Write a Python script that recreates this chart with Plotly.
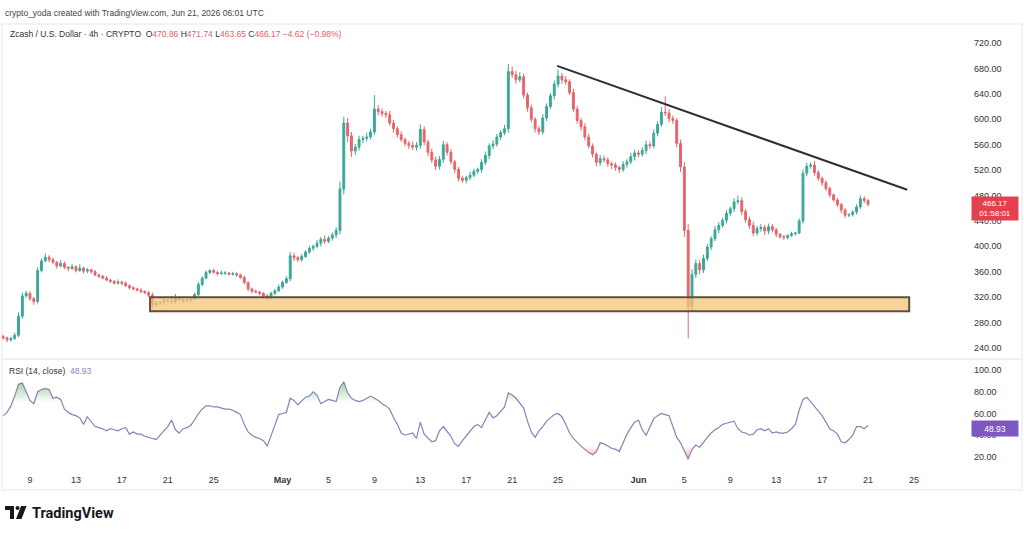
import plotly.graph_objects as go
import pandas as pd

# ---------------- data (8h steps) ----------------
first_open = 258
close = [256, 253, 255, 260, 290, 322, 326, 318, 313, 362,
         377, 383, 379, 375, 369, 373, 367, 365, 368, 362,
         366, 361, 363, 360, 355, 353, 350, 347, 345, 342,
         344, 342, 338, 335, 333, 331, 329, 327, 323, 308,
         311, 312, 315, 314, 313, 319, 316, 314, 315, 317,
         324, 340, 350, 359, 362, 359, 357, 358, 358, 356,
         357, 355, 351, 343, 333, 329, 328, 326, 322, 318,
         326, 330, 336, 343, 349, 385, 382, 379, 384, 391,
         397, 400, 405, 411, 408, 413, 418, 425, 490, 594,
         574, 550, 556, 568, 570, 572, 580, 616, 612, 609,
         607, 594, 585, 576, 568, 562, 559, 556, 559, 584,
         564, 548, 536, 526, 537, 560, 548, 533, 521, 507,
         504, 508, 512, 518, 521, 532, 543, 558, 561, 572,
         579, 585, 675, 670, 662, 667, 638, 618, 600, 585,
         580, 602, 620, 637, 655, 668, 662, 659, 642, 616,
         598, 588, 572, 558, 545, 532, 538, 536, 530, 528,
         524, 521, 529, 533, 541, 547, 545, 551, 560, 558,
         578, 592, 611, 610, 601, 598, 562, 525, 425, 305,
         356, 373, 363, 381, 399, 412, 426, 433, 441, 452,
         459, 470, 472, 455, 442, 433, 421, 428, 430, 424,
         431, 426, 419, 415, 414, 417, 420, 421, 440, 515,
         526, 528, 516, 507, 500, 491, 481, 473, 466, 457,
         449, 450, 454, 462, 475, 472, 466.17]

wick_up = [3, 2, 3, 4, 6, 5, 4, 3, 2, 5,
           4, 6, 3, 3, 2, 5, 3, 2, 4, 2,
           6, 2, 3, 2, 3, 2, 2, 3, 2, 2,
           4, 2, 3, 2, 2, 2, 3, 2, 3, 4,
           3, 2, 3, 2, 8, 6, 3, 2, 3, 2,
           3, 4, 3, 3, 2, 3, 2, 4, 3, 2,
           3, 2, 2, 3, 2, 2, 3, 2, 2, 3,
           3, 3, 4, 3, 4, 6, 5, 3, 4, 3,
           4, 3, 5, 4, 6, 3, 4, 5, 12, 10,
           8, 6, 5, 6, 4, 7, 5, 22, 6, 5,
           4, 6, 5, 4, 5, 3, 4, 6, 5, 8,
           5, 4, 6, 5, 5, 6, 4, 5, 3, 4,
           4, 3, 5, 4, 3, 5, 6, 4, 6, 5,
           4, 6, 12, 8, 6, 7, 5, 4, 5, 3,
           4, 6, 5, 4, 6, 10, 5, 6, 4, 6,
           5, 4, 6, 5, 4, 3, 6, 5, 4, 3,
           4, 3, 5, 4, 6, 5, 4, 5, 6, 5,
           6, 5, 8, 25, 6, 5, 4, 6, 8, 10,
           8, 6, 5, 6, 5, 4, 6, 5, 4, 5,
           4, 6, 8, 5, 4, 5, 6, 4, 5, 4,
           5, 4, 3, 2, 3, 2, 3, 2, 4, 6,
           5, 4, 6, 4, 3, 4, 3, 2, 3, 2,
           3, 2, 3, 4, 5, 4, 3]

wick_dn = [3, 4, 3, 2, 3, 4, 3, 4, 5, 3,
           3, 2, 4, 3, 4, 2, 3, 4, 2, 3,
           2, 4, 3, 3, 2, 3, 2, 2, 3, 2,
           2, 3, 2, 3, 2, 2, 3, 2, 3, 5,
           3, 4, 2, 3, 4, 3, 2, 3, 2, 3,
           2, 3, 3, 2, 3, 2, 3, 2, 3, 2,
           2, 3, 2, 3, 4, 3, 2, 3, 4, 3,
           2, 3, 2, 3, 2, 4, 5, 4, 3, 2,
           3, 4, 3, 5, 4, 3, 4, 5, 6, 8,
           10, 9, 6, 5, 6, 5, 4, 5, 6, 5,
           5, 4, 6, 5, 4, 5, 6, 4, 5, 6,
           5, 6, 5, 6, 5, 6, 5, 4, 6, 5,
           4, 5, 4, 3, 4, 5, 4, 6, 5, 4,
           5, 4, 6, 5, 6, 4, 5, 6, 5, 6,
           5, 4, 5, 4, 6, 5, 6, 5, 4, 5,
           5, 6, 5, 4, 5, 6, 5, 4, 5, 6,
           5, 6, 4, 5, 4, 6, 5, 4, 6, 5,
           4, 5, 4, 5, 6, 5, 6, 8, 10, 50,
           8, 6, 7, 5, 4, 5, 4, 5, 4, 5,
           4, 5, 4, 6, 5, 6, 5, 4, 5, 6,
           5, 4, 5, 3, 4, 3, 2, 3, 2, 4,
           5, 4, 5, 4, 5, 4, 4, 3, 4, 5,
           4, 3, 3, 4, 3, 4, 3]

rsi = [58, 61, 67, 76, 87, 88, 80, 72, 69, 80,
       82, 83, 82, 74, 75, 73, 64, 61, 59, 58,
       56, 50, 57, 52, 48, 47, 46, 44, 46, 45,
       44, 46, 47, 41, 43, 41, 41, 39, 38, 37,
       36, 40, 44, 48, 54, 45, 42, 46, 47, 49,
       54, 60, 64, 67, 67, 66, 66, 65, 64, 64,
       63, 61, 59, 50, 43, 40, 38, 37, 35, 30,
       40, 50, 59, 60, 61, 74, 72, 68, 72, 75,
       76, 80, 77, 69, 71, 73, 72, 71, 84, 89,
       79, 74, 72, 71, 72, 74, 76, 74, 72, 69,
       67, 64, 56, 50, 42, 40, 41, 42, 37, 52,
       41, 37, 34, 35, 44, 48, 43, 39, 32, 30,
       35, 39, 43, 48, 50, 47, 54, 61, 56, 58,
       62, 66, 79, 77, 74, 70, 65, 53, 43, 38,
       44, 48, 53, 56, 59, 60, 57, 50, 42, 37,
       33, 30, 27, 24, 22, 25, 33, 32, 30, 28,
       27, 25, 33, 41, 47, 52, 54, 45, 40, 48,
       55, 58, 60, 59, 58, 48, 38, 33, 25, 18,
       27, 31, 29, 34, 38, 42, 45, 47, 50, 51,
       52, 53, 46, 43, 42, 40, 41, 45, 46, 44,
       46, 42, 43, 42, 42, 43, 46, 50, 63, 73,
       75, 71, 67, 62, 58, 52, 46, 44, 41, 34,
       33, 36, 40, 48, 48, 46, 48.93]

price_ticks = [240, 280, 320, 360, 400, 440, 480, 520, 560, 600, 640, 680, 720]
rsi_ticks = [20, 40, 60, 80, 100]
x_tick_dates = ["2026-04-09", "2026-04-13", "2026-04-17", "2026-04-21", "2026-04-25",
                "2026-05-01", "2026-05-05", "2026-05-09", "2026-05-13", "2026-05-17",
                "2026-05-21", "2026-05-25", "2026-06-01", "2026-06-05", "2026-06-09",
                "2026-06-13", "2026-06-17", "2026-06-21", "2026-06-25"]
x_tick_text = ["9", "13", "17", "21", "25", "<b>May</b>", "5", "9", "13", "17",
               "21", "25", "<b>Jun</b>", "5", "9", "13", "17", "21", "25"]

trend_x = ["2026-05-24 22:00", "2026-06-24 10:00"]
trend_y = [684, 489]
zone_x = ["2026-04-19 11:00", "2026-06-24 14:00"]
zone_y = [298, 320]

last_price = "466.17"
countdown = "01:58:01"
last_rsi = "48.93"

# ---------------- build ----------------
times = pd.date_range("2026-04-06 16:00", periods=len(close), freq="8h")
opens = [first_open] + close[:-1]
highs = [max(o, c) + w for o, c, w in zip(opens, close, wick_up)]
lows = [min(o, c) - w for o, c, w in zip(opens, close, wick_dn)]

W, H = 1024, 535
ML, MR, MT, MB = 0, 69, 25, 70
PW, PH = W - ML - MR, H - MT - MB


def px(x):
    return (x - ML) / PW


def py(y):
    return (H - MB - y) / PH


GREEN = "#3aa897"
RED = "#e8646a"
FONT = "Liberation Sans, Arial, sans-serif"

fig = go.Figure()
fig.add_trace(go.Candlestick(
    x=times, open=opens, high=highs, low=lows, close=close,
    increasing=dict(line=dict(color=GREEN, width=1), fillcolor=GREEN),
    decreasing=dict(line=dict(color=RED, width=1), fillcolor=RED),
    whiskerwidth=0, xaxis="x", yaxis="y", showlegend=False, hoverinfo="skip"))

fig.add_trace(go.Scatter(x=trend_x, y=trend_y, mode="lines",
                         line=dict(color="#2f2f2f", width=2),
                         xaxis="x", yaxis="y", showlegend=False, hoverinfo="skip"))

# RSI fills (overbought / oversold)
fig.add_trace(go.Scatter(x=times, y=[70] * len(rsi), mode="lines", line=dict(width=0),
                         xaxis="x", yaxis="y2", showlegend=False, hoverinfo="skip"))
fig.add_trace(go.Scatter(x=times, y=[max(v, 70) for v in rsi], mode="lines", line=dict(width=0),
                         fill="tonexty",
                         fillgradient=dict(type="vertical",
                                           colorscale=[[0, "rgba(76,175,80,0.0)"], [1, "rgba(76,175,80,0.55)"]]),
                         xaxis="x", yaxis="y2", showlegend=False, hoverinfo="skip"))
fig.add_trace(go.Scatter(x=times, y=[30] * len(rsi), mode="lines", line=dict(width=0),
                         xaxis="x", yaxis="y2", showlegend=False, hoverinfo="skip"))
fig.add_trace(go.Scatter(x=times, y=[min(v, 30) for v in rsi], mode="lines", line=dict(width=0),
                         fill="tonexty",
                         fillgradient=dict(type="vertical",
                                           colorscale=[[0, "rgba(242,54,69,0.45)"], [1, "rgba(242,54,69,0.0)"]]),
                         xaxis="x", yaxis="y2", showlegend=False, hoverinfo="skip"))
fig.add_trace(go.Scatter(x=times, y=rsi, mode="lines", line=dict(color="#8a80b8", width=1.2),
                         xaxis="x", yaxis="y2", showlegend=False, hoverinfo="skip"))

fig.update_layout(
    width=W, height=H, margin=dict(l=ML, r=MR, t=MT, b=MB),
    paper_bgcolor="white", plot_bgcolor="white",
    font=dict(family=FONT, size=9, color="#333"),
    xaxis=dict(type="date", range=["2026-04-06 09:17", "2026-06-28 13:48"],
               anchor="y2", rangeslider=dict(visible=False),
               tickvals=x_tick_dates, ticktext=x_tick_text,
               showgrid=False, zeroline=False, showline=False, ticks="",
               tickfont=dict(size=9, color="#333"), ticklabelstandoff=8),
    yaxis=dict(domain=[0.2432, 1.0], range=[224.3, 748.3], side="right",
               tickvals=price_ticks, tickformat=".2f",
               showgrid=False, zeroline=False, showline=False, ticks="",
               tickfont=dict(size=9, color="#333"), ticklabelstandoff=18),
    yaxis2=dict(domain=[0.0, 0.2386], range=[12.6, 109.2], side="right",
                tickvals=rsi_ticks, tickformat=".2f",
                showgrid=False, zeroline=False, showline=False, ticks="",
                tickfont=dict(size=9, color="#333"), ticklabelstandoff=18),
)

# support zone
fig.add_shape(type="rect", xref="x", yref="y", x0=zone_x[0], x1=zone_x[1],
              y0=zone_y[0], y1=zone_y[1], fillcolor="rgba(246,196,120,0.75)",
              line=dict(color="#5e5040", width=2), layer="above")

# frame lines
fig.add_shape(type="rect", xref="paper", yref="paper", x0=px(2), x1=px(1022), y0=py(490), y1=py(24),
              line=dict(color="#e3e5ea", width=1), layer="below")
fig.add_shape(type="line", xref="paper", yref="paper", x0=px(2), x1=px(1022), y0=py(359), y1=py(359),
              line=dict(color="#e3e5ea", width=1))

# header texts
fig.add_annotation(xref="paper", yref="paper", x=px(3), y=py(13), xanchor="left", yanchor="middle",
                   showarrow=False, text="crypto_yoda created with TradingView.com, Jun 21, 2026 06:01 UTC",
                   font=dict(size=8.5, color="#444"))
red = "#e06068"
hdr = ("Zcash / U.S. Dollar · 4h · CRYPTO  "
       f"O<span style='color:{red}'>470.86</span> "
       f"H<span style='color:{red}'>471.74</span> "
       f"L<span style='color:{red}'>463.65</span> "
       f"C<span style='color:{red}'>466.17</span> "
       f"<span style='color:{red}'>−4.62 (−0.98%)</span>")
fig.add_annotation(xref="paper", yref="paper", x=px(8), y=py(34), xanchor="left", yanchor="middle",
                   showarrow=False, text=hdr, font=dict(size=8.5, color="#333"))
fig.add_annotation(xref="paper", yref="paper", x=px(7), y=py(371), xanchor="left", yanchor="middle",
                   showarrow=False,
                   text=f"RSI (14, close)  <span style='color:#8a80c0'>{last_rsi}</span>",
                   font=dict(size=8.5, color="#333"))

# last value labels
fig.add_annotation(xref="paper", yref="paper", x=px(995), y=py(208.5), xanchor="center", yanchor="middle",
                   showarrow=False, text=f"{last_price}<br>{countdown}", bgcolor="#e5404d",
                   width=44, height=21, font=dict(size=8, color="white"))
fig.add_annotation(xref="paper", yref="paper", x=px(995), y=py(428.5), xanchor="center", yanchor="middle",
                   showarrow=False, text=last_rsi, bgcolor="#7e57c2",
                   width=44, height=13, font=dict(size=8.5, color="white"))

# TradingView logo
fig.add_shape(type="rect", xref="paper", yref="paper", x0=px(5), x1=px(14), y0=py(510), y1=py(506),
              fillcolor="#131722", line=dict(width=0))
fig.add_shape(type="rect", xref="paper", yref="paper", x0=px(10), x1=px(14), y0=py(519), y1=py(506),
              fillcolor="#131722", line=dict(width=0))
fig.add_shape(type="circle", xref="paper", yref="paper", x0=px(15.5), x1=px(19.5), y0=py(510), y1=py(506),
              fillcolor="#131722", line=dict(width=0))
fig.add_shape(type="path", xref="paper", yref="paper",
              path=f"M {px(21)} {py(506)} L {px(26.5)} {py(506)} L {px(21.5)} {py(519)} L {px(16)} {py(519)} Z",
              fillcolor="#131722", line=dict(width=0))
fig.add_annotation(xref="paper", yref="paper", x=px(30), y=py(513), xanchor="left", yanchor="middle",
                   showarrow=False, text="<b>TradingView</b>",
                   font=dict(size=14.5, color="#131722", family="Roboto, Liberation Sans, sans-serif"))

fig.write_html("out.html")
